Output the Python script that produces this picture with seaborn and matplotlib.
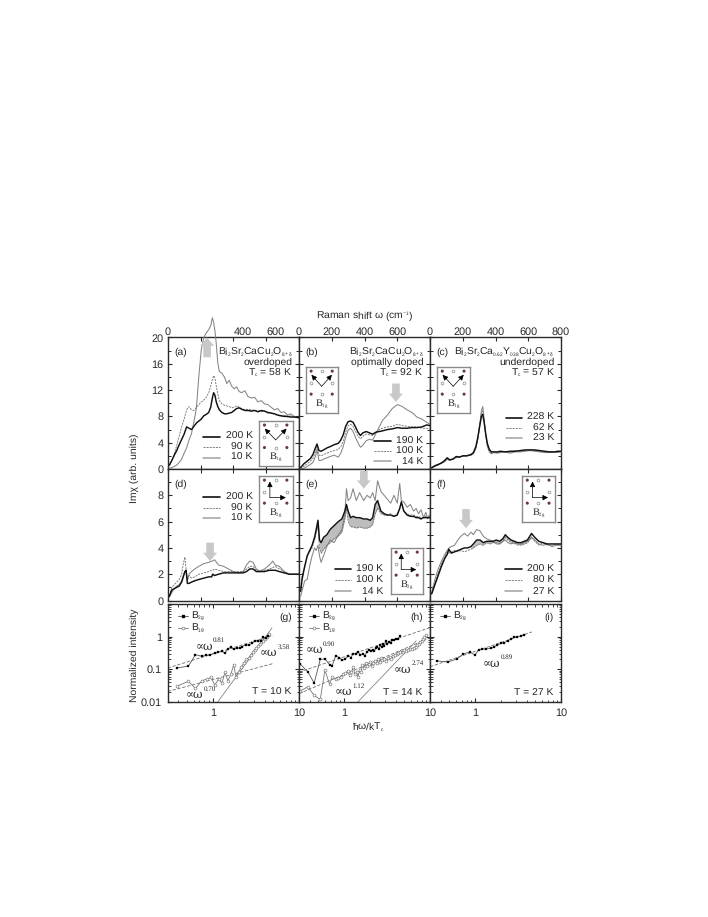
import matplotlib
matplotlib.use("Agg")
from matplotlib import _mathtext
import matplotlib.pyplot as plt
from matplotlib.ticker import LogLocator, MultipleLocator, NullFormatter
import seaborn as sns

# subscripts in the original are much smaller than the mathtext default
_mathtext.SHRINK_FACTOR = 0.45

# top panels, Raman shift in cm-1
a_x = [10, 25, 40, 55, 70, 85, 100, 115, 130, 145,
       160, 175, 190, 205, 220, 235, 250, 262, 272, 280,
       288, 296, 305, 315, 330, 345, 360, 375, 390, 405,
       420, 435, 450, 470, 490, 510, 530, 550, 570, 590,
       610, 630, 650, 670, 690, 710, 730, 750, 775, 800]
a_200 = [0.6, 1.3, 2.1, 2.8, 3.7, 4.5, 5.3, 6.4, 6.2, 6.0,
         6.5, 7.0, 7.3, 7.6, 8.1, 8.3, 8.6, 9.4, 10.8, 11.6,
         11.2, 10.2, 9.5, 9.0, 8.6, 8.4, 8.4, 8.5, 8.6, 8.9,
         9.2, 9.3, 9.1, 8.9, 8.9, 8.8, 8.9, 8.7, 8.9, 8.8,
         8.6, 8.5, 8.4, 8.2, 8.1, 8.0, 8.0, 7.9, 7.9, 7.8]
a_90 = [0.5, 1.2, 2.3, 3.6, 5.0, 6.4, 7.6, 9.0, 9.5, 9.0,
        8.9, 9.4, 9.8, 10.2, 10.5, 10.9, 11.6, 12.6, 13.6, 14.2,
        13.8, 12.6, 11.4, 10.4, 9.9, 9.7, 9.6, 9.5, 9.3, 9.4,
        9.6, 9.4, 9.2, 9.0, 9.1, 9.0, 8.9, 8.9, 8.7, 8.8,
        8.5, 8.6, 8.3, 8.2, 8.0, 8.2, 7.9, 8.1, 7.9, 7.8]
a_10 = [0.1, 0.2, 0.4, 0.6, 1.0, 1.5, 2.4, 3.2, 4.4, 5.4,
        7.2, 9.3, 14.2, 18.2, 20.0, 20.7, 21.2, 21.8, 23.0, 22.3,
        21.0, 19.0, 16.2, 14.8, 14.6, 14.0, 13.0, 13.5, 12.6, 12.2,
        12.5, 11.8, 11.6, 11.9, 11.0, 10.8, 10.9, 10.2, 10.4, 9.9,
        9.8, 9.4, 9.0, 9.2, 8.6, 8.7, 8.2, 8.4, 7.9, 7.8]

b_x = [10, 30, 50, 70, 85, 100, 110, 122, 135, 150,
       170, 190, 215, 240, 255, 270, 285, 300, 315, 330,
       345, 360, 375, 390, 410, 430, 450, 470, 490, 510,
       540, 570, 600, 630, 660, 690, 720, 750, 780, 800]
b_190 = [0.2, 0.8, 1.2, 1.6, 2.2, 3.2, 3.8, 2.8, 2.7, 2.9,
         3.2, 3.4, 3.7, 3.9, 4.4, 5.2, 6.5, 7.2, 7.3, 7.1,
         6.4, 5.6, 5.1, 5.5, 5.7, 5.5, 5.3, 5.6, 5.7, 5.8,
         6.0, 6.1, 6.3, 6.2, 6.2, 6.3, 6.3, 6.4, 6.7, 6.6]
b_100 = [0.0, 0.4, 0.8, 1.2, 1.6, 2.6, 3.4, 2.1, 2.0, 2.2,
         2.4, 2.6, 2.8, 3.0, 3.4, 4.2, 5.6, 6.6, 6.8, 6.5,
         5.7, 5.0, 4.6, 5.0, 5.3, 5.2, 5.1, 5.6, 6.0, 6.2,
         6.4, 6.5, 6.8, 6.6, 6.5, 6.4, 6.4, 6.2, 6.2, 6.1]
b_14 = [0.0, 0.1, 0.4, 0.7, 1.0, 1.9, 2.9, 1.3, 1.3, 1.5,
        1.7, 1.9, 2.1, 1.8, 2.4, 3.4, 4.8, 5.9, 6.2, 5.7,
        4.8, 4.0, 3.3, 3.6, 4.3, 4.5, 4.4, 5.4, 6.4, 7.4,
        8.2, 9.2, 9.8, 9.5, 9.0, 8.6, 7.9, 7.6, 7.1, 6.8]

c_x = [10, 30, 50, 70, 90, 105, 120, 140, 160, 180,
       200, 225, 250, 265, 280, 292, 304, 314, 322, 330,
       340, 350, 362, 375, 390, 410, 430, 460, 490, 520,
       550, 580, 610, 640, 670, 700, 730, 760, 780, 800]
c_228 = [0.2, 0.5, 0.7, 0.9, 1.3, 1.7, 1.4, 1.5, 1.9, 1.8,
         2.0, 2.0, 2.2, 2.5, 3.4, 4.8, 6.6, 8.0, 8.3, 7.2,
         5.4, 3.9, 3.0, 2.6, 2.6, 2.6, 2.7, 2.6, 2.7, 2.7,
         2.8, 2.9, 2.9, 2.9, 2.8, 2.7, 2.6, 2.6, 2.7, 2.7]
c_62 = [0.2, 0.4, 0.6, 1.0, 1.2, 1.6, 1.3, 1.6, 1.7, 1.9,
        1.9, 2.1, 2.1, 2.4, 3.2, 4.6, 6.6, 8.4, 8.8, 7.4,
        5.2, 3.7, 2.8, 2.4, 2.7, 2.5, 2.6, 2.7, 2.5, 2.8,
        2.7, 2.8, 3.0, 2.8, 2.7, 2.6, 2.7, 2.5, 2.6, 2.7]
c_23 = [0.1, 0.4, 0.6, 0.9, 1.1, 1.5, 1.3, 1.5, 1.8, 1.8,
        2.0, 2.0, 2.1, 2.3, 3.1, 4.5, 6.8, 8.9, 9.5, 7.8,
        5.2, 3.5, 2.6, 2.3, 2.5, 2.4, 2.5, 2.6, 2.4, 2.6,
        2.6, 2.7, 2.8, 2.7, 2.6, 2.5, 2.5, 2.6, 2.5, 2.6]

# middle panels
d_x = [10, 25, 40, 55, 70, 85, 95, 105, 112, 120,
       130, 145, 165, 190, 220, 250, 268, 274, 285, 310,
       340, 370, 400, 430, 460, 480, 500, 520, 540, 560,
       590, 620, 640, 655, 680, 710, 740, 765, 785, 800]
d_200 = [0.3, 0.8, 0.9, 1.0, 1.1, 1.4, 1.8, 2.2, 2.3, 1.3,
         1.3, 1.4, 1.5, 1.6, 1.7, 1.8, 1.8, 2.0, 1.9, 2.0,
         2.1, 2.1, 2.1, 2.1, 2.1, 2.2, 2.4, 2.4, 2.2, 2.2,
         2.2, 2.3, 2.3, 2.3, 2.2, 2.1, 2.0, 2.0, 2.0, 2.0]
d_90 = [0.4, 1.0, 1.2, 1.4, 1.6, 2.0, 2.8, 3.3, 2.4, 1.6,
        1.9, 1.7, 1.8, 2.0, 2.1, 2.2, 2.3, 2.3, 2.4, 2.3,
        2.2, 2.2, 2.2, 2.2, 2.2, 2.4, 2.6, 2.6, 2.3, 2.3,
        2.3, 2.4, 2.5, 2.6, 2.4, 2.2, 2.0, 2.0, 2.0, 2.0]
d_10 = [0.3, 0.6, 0.9, 1.1, 1.2, 1.5, 1.9, 2.2, 2.3, 1.5,
        2.0, 2.2, 2.4, 2.6, 2.8, 2.9, 3.0, 3.0, 3.1, 2.7,
        2.6, 2.4, 2.2, 2.1, 2.2, 2.7, 3.0, 2.9, 2.4, 2.2,
        2.4, 2.7, 3.0, 2.7, 2.6, 2.2, 2.0, 2.0, 2.0, 2.0]

e_x = [10, 20, 35, 50, 65, 80, 95, 105, 116, 125,
       135, 150, 170, 190, 215, 240, 262, 280, 290, 300,
       315, 330, 350, 370, 395, 415, 435, 450, 465, 480,
       500, 520, 540, 560, 580, 600, 615, 625, 640, 660,
       680, 700, 715, 730, 745, 760, 775, 785, 795, 800]
e_190 = [0.7, 1.7, 2.6, 3.4, 3.8, 4.2, 4.8, 5.4, 6.1, 4.6,
         4.4, 4.8, 5.0, 5.4, 5.7, 6.0, 6.2, 6.8, 7.3, 6.8,
         6.3, 6.4, 6.3, 6.3, 6.2, 6.2, 6.1, 6.3, 7.3, 7.6,
         6.8, 6.6, 6.5, 6.5, 6.4, 6.5, 7.0, 7.5, 6.8, 6.5,
         6.4, 6.4, 6.3, 6.3, 6.2, 6.3, 6.3, 6.3, 6.3, 6.3]
e_100 = [1.0, 2.0, 2.6, 3.3, 3.7, 4.0, 4.6, 5.2, 5.6, 4.0,
         3.6, 3.9, 4.2, 4.4, 4.7, 4.9, 5.2, 6.2, 7.0, 6.0,
         5.6, 5.6, 5.5, 5.6, 5.5, 5.5, 5.6, 5.8, 6.6, 7.0,
         6.6, 6.5, 6.5, 6.6, 6.4, 6.6, 7.0, 7.4, 6.8, 6.6,
         6.5, 6.5, 6.4, 6.4, 6.3, 6.3, 6.4, 6.3, 6.3, 6.3]
e_14 = [0.3, 0.8, 1.5, 1.6, 2.6, 3.4, 4.0, 3.8, 4.2, 3.4,
        2.9, 3.4, 4.1, 4.6, 4.4, 5.0, 5.4, 6.6, 8.5, 7.6,
        7.8, 8.5, 7.6, 8.2, 7.6, 8.0, 7.8, 8.2, 7.6, 9.1,
        8.3, 8.0, 7.7, 7.4, 8.0, 7.4, 8.9, 7.6, 7.5, 7.1,
        7.3, 6.8, 7.0, 6.6, 6.9, 6.3, 6.7, 6.2, 6.5, 6.3]

f_x = [10, 30, 50, 70, 90, 105, 115, 130, 150, 170,
       190, 210, 230, 250, 265, 285, 305, 325, 345, 365,
       385, 405, 425, 445, 460, 475, 495, 515, 535, 555,
       575, 595, 620, 640, 665, 690, 715, 745, 770, 800]
f_200 = [0.5, 1.2, 1.9, 2.6, 3.2, 3.5, 3.9, 3.6, 3.7, 3.8,
         3.9, 4.0, 4.0, 4.1, 4.3, 4.6, 4.6, 4.4, 4.5, 4.5,
         4.5, 4.6, 4.5, 4.7, 5.0, 4.8, 4.6, 4.5, 4.4, 4.4,
         4.5, 4.6, 5.1, 4.8, 4.5, 4.4, 4.3, 4.3, 4.3, 4.3]
f_80 = [0.5, 1.3, 2.1, 2.8, 3.3, 3.7, 3.6, 3.7, 3.8, 3.7,
        3.8, 3.7, 3.8, 3.9, 4.0, 4.2, 4.3, 4.2, 4.4, 4.3,
        4.4, 4.4, 4.3, 4.5, 4.8, 4.6, 4.4, 4.3, 4.4, 4.2,
        4.3, 4.4, 4.8, 4.5, 4.2, 4.4, 4.2, 4.2, 4.3, 4.2]
f_27 = [0.6, 1.6, 2.4, 3.0, 3.5, 3.8, 4.0, 4.1, 4.2, 4.6,
        4.9, 5.1, 4.9, 5.2, 5.0, 5.4, 5.3, 4.9, 4.7, 4.6,
        4.5, 4.3, 4.3, 4.5, 4.6, 4.4, 4.3, 4.5, 4.2, 4.3,
        4.4, 4.5, 4.8, 4.6, 4.3, 4.2, 4.3, 4.1, 4.2, 4.2]

# bottom panels, normalized intensity against hw/kTc
g_x_b2g = [.38, .52, .63, .75, .84, .92, 1.05, 1.15, 1.28, 1.38,
           1.5, 1.62, 1.75, 1.9, 2.05, 2.2, 2.4, 2.6, 2.85, 3.1,
           3.35, 3.6, 3.85, 4.1, 4.4]
g_y_b2g = [.11, .125, .28, .25, .27, .28, .31, .33, .36, .31,
           .42, .48, .41, .46, .44, .50, .56, .55, .62, .76,
           .72, .75, .95, .9, 1.05]
g_x_b1g = [.38, .52, .63, .75, .85, .96, 1.05, 1.17, 1.28, 1.38,
           1.5, 1.62, 1.75, 1.85, 2.0, 2.15, 2.3, 2.45, 2.6, 2.75,
           2.9, 3.05, 3.2, 3.35, 3.5, 3.65, 3.8, 4.0, 4.2, 4.5]
g_y_b1g = [.03, .043, .026, .045, .05, .057, .033, .05, .038, .08,
           .045, .07, .14, .06, .085, .12, .16, .2, .22, .27,
           .33, .4, .45, .52, .6, .68, .75, .85, 1.0, 1.2]

h_x_b2g = [.31, .38, .45, .53, .6, .68, .73, .8, .88, .95,
           1.02, 1.12, 1.2, 1.28, 1.38, 1.47, 1.55, 1.65, 1.75, 1.85,
           1.95, 2.05, 2.15, 2.25, 2.35, 2.45, 2.55, 2.65, 2.75, 2.85,
           2.95, 3.05, 3.2, 3.35, 3.5, 3.65, 3.8, 4.0, 4.2, 4.5]
h_y_b2g = [.145, .084, .038, .2, .21, .14, .13, .26, .23, .19,
           .2, .26, .23, .3, .3, .33, .28, .3, .26, .35,
           .38, .36, .4, .36, .45, .5, .42, .55, .48, .6,
           .52, .72, .6, .7, .65, .78, .8, .82, .85, 1.03]
h_x_b1g = [.31, .38, .45, .53, .6, .68, .73, .8, .86, .92,
           .98, 1.04, 1.1, 1.16, 1.22, 1.28, 1.34, 1.4, 1.46, 1.52,
           1.58, 1.64, 1.7, 1.78, 1.86, 1.94, 2.02, 2.1, 2.2, 2.3,
           2.4, 2.5, 2.6, 2.7, 2.8, 2.95, 3.1, 3.25, 3.4, 3.55,
           3.7, 3.9, 4.1, 4.3, 4.5, 4.8, 5.0, 5.3, 5.6, 5.9,
           6.2, 6.5, 6.8, 7.1, 7.4, 7.7, 8.0, 8.3, 8.6, 9.0]
h_y_b1g = [.022, .029, .016, .012, .095, .035, .06, .05, .055, .06,
           .07, .075, .09, .065, .08, .12, .07, .085, .06, .095,
           .08, .14, .11, .16, .13, .15, .17, .13, .16, .18,
           .16, .2, .17, .22, .19, .2, .18, .23, .24, .2,
           .26, .28, .3, .32, .35, .34, .38, .36, .4, .42,
           .43, .46, .5, .55, .6, .68, .75, .85, .95, 1.1]

i_x_b2g = [.365, .485, .61, .73, .87, 1.0, 1.1, 1.22, 1.33, 1.52,
           1.65, 1.8, 2.0, 2.2, 2.4, 2.6, 2.85, 3.1, 3.4, 3.7]
i_y_b2g = [.18, .167, .207, .295, .34, .275, .39, .41, .42, .44,
           .47, .55, .62, .66, .74, .85, .95, .98, 1.05, 1.1]

# power law guide lines, end points only
g_fit_081 = ([.3, 5], [.11, 1.1])
g_fit_070 = ([.3, 5], [.021, .15])
g_fit_358 = ([1.14, 4.85], [.01, 1.83])
h_fit_090 = ([.3, 10], [.082, 1.9])
h_fit_112 = ([.3, 10], [.018, .92])
h_fit_274 = ([1.45, 6.9], [.01, .74])
i_fit_089 = ([.3, 4.6], [.12, 1.4])

BLACK = "#111111"
AXIS_COL = "#2a2a2a"
TEXT_COL = "#262626"
DASH_COL = "#6e6e6e"
THIN_COL = "#858585"
ARROW_COL = "#c8c8c8"
TICK_FS = 7.8
TEXT_FS = 7.5

sns.set_style("ticks")
plt.rcParams["font.family"] = ["Liberation Sans", "DejaVu Sans"]
plt.rcParams["mathtext.default"] = "regular"
plt.rcParams["font.size"] = TEXT_FS
plt.rcParams["text.color"] = TEXT_COL
plt.rcParams["text.hinting"] = "none"
plt.rcParams["axes.linewidth"] = 1.0

W, H = 708, 917
fig = plt.figure(figsize=(W / 100, H / 100), dpi=100, facecolor="white")


def px_axes(left, top, right, bottom, **kw):
    return fig.add_axes([left / W, 1 - bottom / H, (right - left) / W, (bottom - top) / H], **kw)


col_edges = [(167.7, 299), (299, 430), (430, 561)]
rows = [(337.5, 469), (469, 600.5), (604, 702)]
axes = [[px_axes(c[0], r[0], c[1], r[1]) for c in col_edges] for r in rows]


def curves(ax, x, y1, y2, y3):
    sns.lineplot(x=x, y=y3, ax=ax, color=THIN_COL, lw=0.75, clip_on=False, zorder=3)
    sns.lineplot(x=x, y=y2, ax=ax, color=DASH_COL, lw=0.6, dashes=(2.5, 1.2), clip_on=False, zorder=3)
    sns.lineplot(x=x, y=y1, ax=ax, color=BLACK, lw=1.05, zorder=4)


def line_legend(ax, xl, xr, xt, ys, labels):
    styles = [dict(color=BLACK, lw=1.2),
              dict(color=DASH_COL, lw=0.6, ls=(0, (2.5, 1.2))),
              dict(color="#a0a0a0", lw=1.1)]
    for y, lab, st in zip(ys, labels, styles):
        ax.plot([xl, xr], [y, y], transform=ax.transAxes, **st)
        ax.text(xt, y, lab, transform=ax.transAxes, ha="right", va="center", fontsize=TEXT_FS)


def big_arrow(ax, x, y_from, y_to):
    ax.annotate("", xy=(x, y_to), xytext=(x, y_from), zorder=6, annotation_clip=False,
                arrowprops=dict(facecolor=ARROW_COL, edgecolor="none", width=5.5, headwidth=10,
                                headlength=6, shrink=0))


def lattice(left, top, right, bottom, kind):
    ins = px_axes(left, top, right, bottom, zorder=8)
    ins.set_xlim(0, 1)
    ins.set_ylim(1, 0)
    ins.set_xticks([])
    ins.set_yticks([])
    for s in ins.spines.values():
        s.set_color("#8a8a8a")
        s.set_linewidth(1.0)
    sns.scatterplot(x=[.16, .82, .16, .82], y=[.09, .09, .59, .59], ax=ins, s=5, color="#6b3a3a",
                    edgecolor="none", legend=False)
    sns.scatterplot(x=[.49, .16, .82, .49], y=[.09, .35, .35, .59], ax=ins, s=4, color="white",
                    edgecolor="#8a8a8a", linewidth=0.5, legend=False)
    head = dict(arrowstyle="-|>", color="black", lw=0.5, mutation_scale=8, shrinkA=0, shrinkB=0)
    if kind == "1g":
        ins.annotate("", xy=(.17, .17), xytext=(.49, .42), arrowprops=head)
        ins.annotate("", xy=(.81, .17), xytext=(.49, .42), arrowprops=head)
        lab = "B$_{1g}$"
    else:
        ins.annotate("", xy=(.32, .12), xytext=(.32, .47), arrowprops=head)
        ins.annotate("", xy=(.79, .47), xytext=(.32, .47), arrowprops=head)
        lab = "B$_{2g}$"
    ins.text(.5, .82, lab, ha="center", va="center", fontsize=7.5, family="Liberation Serif")


def power_label(ax, x, y, exponent):
    ax.text(x, y, "∝ω", transform=ax.transAxes, ha="center", va="center", fontsize=8.5,
            family=["DejaVu Serif"], zorder=7)
    ax.annotate(exponent, xy=(x, y), xycoords="axes fraction", xytext=(11, 4.5),
                textcoords="offset points", ha="center", va="center", fontsize=5,
                family="Liberation Serif", zorder=7)


# spectra
curves(axes[0][0], a_x, a_200, a_90, a_10)
curves(axes[0][1], b_x, b_190, b_100, b_14)
curves(axes[0][2], c_x, c_228, c_62, c_23)
curves(axes[1][0], d_x, d_200, d_90, d_10)
axes[1][1].fill_between(e_x, e_190, e_100, where=[90 <= v <= 540 for v in e_x], color="#bdbdbd", lw=0, zorder=2)
curves(axes[1][1], e_x, e_190, e_100, e_14)
axes[1][2].fill_between(f_x, f_200, f_80, where=[240 <= v <= 620 for v in f_x], color="#c4c4c4", lw=0, zorder=2)
curves(axes[1][2], f_x, f_200, f_80, f_27)

big_arrow(axes[0][0], 240, 17, 20)
big_arrow(axes[0][1], 592, 13, 10.2)
big_arrow(axes[1][0], 258, 4.4, 3)
big_arrow(axes[1][1], 396, 9.85, 8.5)
big_arrow(axes[1][2], 220, 6.95, 5.5)

line_legend(axes[0][0], .27, .40, .648, [.247, .165, .086], ["200 K", "90 K", "10 K"])
line_legend(axes[0][1], .572, .70, .947, [.214, .137, .061], ["190 K", "100 K", "14 K"])
line_legend(axes[0][2], .578, .70, .947, [.39, .31, .236], ["228 K", "62 K", "23 K"])
line_legend(axes[1][0], .27, .40, .648, [.786, .70, .626], ["200 K", "90 K", "10 K"])
line_legend(axes[1][1], .272, .397, .643, [.237, .153, .069], ["190 K", "100 K", "14 K"])
line_legend(axes[1][2], .572, .70, .949, [.237, .153, .069], ["200 K", "80 K", "27 K"])

lattice(259, 421, 293, 466, "1g")
lattice(306, 367, 338, 413, "1g")
lattice(437, 367, 470, 413, "1g")
lattice(259, 476, 293, 522, "2g")
lattice(391, 548, 423, 594, "2g")
lattice(522, 476, 555, 522, "2g")

title_lines = [
    ["Bi$_2$Sr$_2$CaCu$_2$O$_{8+δ}$", "overdoped", "T$_c$ = 58 K"],
    ["Bi$_2$Sr$_2$CaCu$_2$O$_{8+δ}$", "optimally doped", "T$_c$ = 92 K"],
    ["Bi$_2$Sr$_2$Ca$_{0.62}$Y$_{0.38}$Cu$_2$O$_{8+δ}$", "underdoped", "T$_c$ = 57 K"],
]
for j, lines in enumerate(title_lines):
    for y, line in zip([.89, .81, .735], lines):
        axes[0][j].text(.95, y, line, transform=axes[0][j].transAxes, ha="right", va="center", fontsize=TEXT_FS)

for ax, lab in zip(axes[0] + axes[1], ["(a)", "(b)", "(c)", "(d)", "(e)", "(f)"]):
    ax.text(.05, .885, lab, transform=ax.transAxes, ha="left", va="center", fontsize=TEXT_FS)

# axis set up for the spectra
for r in range(2):
    for j, ax in enumerate(axes[r]):
        ax.set_xlim(0, 800)
        ax.set_ylim(*((0, 20) if r == 0 else (0, 10)))
        ax.set_xlabel("")
        ax.set_ylabel("")
        ax.xaxis.set_major_locator(MultipleLocator(200))
        ax.yaxis.set_major_locator(MultipleLocator(4 if r == 0 else 2))
        ax.yaxis.set_minor_locator(MultipleLocator(2 if r == 0 else 1))
        ax.tick_params(which="major", direction="in", length=3, width=0.8, top=True, right=True,
                       labelbottom=False, labelleft=(j == 0), labelsize=TICK_FS, colors=AXIS_COL, pad=3)
        ax.tick_params(which="minor", direction="in", length=2, width=0.7, left=True, right=True)
        for s in ax.spines.values():
            s.set_visible(True)
            s.set_color(AXIS_COL)
for ax in axes[1]:
    ax.set_yticks([0, 2, 4, 6, 8])
    ax.set_ylim(0, 10)
for ax in axes[0]:
    ax.tick_params(axis="x", which="major", labeltop=True, pad=0.5)
axes[0][0].set_xticks([0, 200, 400, 600, 800], ["0", "", "", "", ""])
axes[0][1].set_xticks([0, 200, 400, 600, 800], ["0", "200", "400", "600", ""])
axes[0][2].set_xticks([0, 200, 400, 600, 800], ["0", "200", "400", "600", "800"])
# these two sit to the right of their ticks in the original
for val in ["400", "600"]:
    axes[0][0].annotate(val, xy=(int(val), 20), xycoords="data", xytext=(6.5, 0.5), textcoords="offset points",
                        ha="center", va="bottom", fontsize=TICK_FS, color=AXIS_COL)

# bottom row
for j, ax in enumerate(axes[2]):
    ax.set_xscale("log")
    ax.set_yscale("log")

dash = dict(color=DASH_COL, lw=0.6, dashes=(4, 2))
thin = dict(color=THIN_COL, lw=0.6)
sq = dict(color="#555555", lw=0.6, marker="s", markersize=1.9, markerfacecolor="black",
          markeredgecolor="black", markeredgewidth=0.2)
circ = dict(color="#777777", lw=0.6, marker="o", markersize=2.1, markerfacecolor="white",
            markeredgecolor="#666666", markeredgewidth=0.4)

ax = axes[2][0]
sns.lineplot(x=g_fit_081[0], y=g_fit_081[1], ax=ax, **dash)
sns.lineplot(x=g_fit_070[0], y=g_fit_070[1], ax=ax, **dash)
sns.lineplot(x=g_fit_358[0], y=g_fit_358[1], ax=ax, **thin)
sns.lineplot(x=g_x_b1g, y=g_y_b1g, ax=ax, **circ)
sns.lineplot(x=g_x_b2g, y=g_y_b2g, ax=ax, **sq)
power_label(ax, .277, .564, "0.81")
power_label(ax, .771, .50, "3.58")
power_label(ax, .206, .071, "0.70")

ax = axes[2][1]
sns.lineplot(x=h_fit_090[0], y=h_fit_090[1], ax=ax, **dash)
sns.lineplot(x=h_fit_112[0], y=h_fit_112[1], ax=ax, **dash)
sns.lineplot(x=h_fit_274[0], y=h_fit_274[1], ax=ax, **thin)
sns.lineplot(x=h_x_b1g, y=h_y_b1g, ax=ax, **circ)
sns.lineplot(x=h_x_b2g, y=h_y_b2g, ax=ax, **sq)
power_label(ax, .115, .53, "0.90")
power_label(ax, .341, .102, "1.12")
power_label(ax, .789, .334, "2.74")

ax = axes[2][2]
sns.lineplot(x=i_fit_089[0], y=i_fit_089[1], ax=ax, **dash)
sns.lineplot(x=i_x_b2g, y=i_y_b2g, ax=ax, **sq)
power_label(ax, .471, .395, "0.89")

for j, ax in enumerate(axes[2]):
    ax.set_xlim(0.3, 10)
    ax.set_ylim(0.01, 10)
    ax.set_xlabel("")
    ax.set_ylabel("")
    ax.set_xticks([1, 10], ["1", "10"])
    ax.set_yticks([0.01, 0.1, 1, 10], ["0.01", "0.1", "1", ""])
    ax.xaxis.set_minor_locator(LogLocator(base=10, subs=range(2, 10), numticks=12))
    ax.yaxis.set_minor_locator(LogLocator(base=10, subs=range(2, 10), numticks=12))
    ax.xaxis.set_minor_formatter(NullFormatter())
    ax.yaxis.set_minor_formatter(NullFormatter())
    ax.tick_params(which="major", direction="in", length=3, width=0.8, top=True, right=True,
                   labelleft=(j == 0), labelsize=TICK_FS, colors=AXIS_COL, pad=4)
    ax.tick_params(which="minor", direction="in", length=1.8, width=0.6, top=True, right=True,
                   bottom=True, left=True)
    for s in ax.spines.values():
        s.set_visible(True)
        s.set_color(AXIS_COL)

    # small marker key, top left of each log panel
    ax.plot([.075, .155], [.878, .878], transform=ax.transAxes, color="#555555", lw=0.6)
    ax.plot([.115], [.878], transform=ax.transAxes, color="black", marker="s", markersize=1.9)
    ax.text(.178, .878, "B$_{2g}$", transform=ax.transAxes, ha="left", va="center", fontsize=TEXT_FS)
    if j < 2:
        ax.plot([.075, .155], [.758, .758], transform=ax.transAxes, color="#777777", lw=0.6)
        ax.plot([.115], [.758], transform=ax.transAxes, color="#666666", marker="o", markersize=2.1,
                markerfacecolor="white", markeredgewidth=0.4)
        ax.text(.178, .758, "B$_{1g}$", transform=ax.transAxes, ha="left", va="center", fontsize=TEXT_FS)

for ax, lab, temp in zip(axes[2], ["(g)", "(h)", "(i)"], ["T = 10 K", "T = 14 K", "T = 27 K"]):
    ax.text(.945, .865, lab, transform=ax.transAxes, ha="right", va="center", fontsize=TEXT_FS)
    ax.text(.945, .10, temp, transform=ax.transAxes, ha="right", va="center", fontsize=TEXT_FS)

# axis titles
fig.text(364 / W, 1 - 316 / H, "Raman shift ω (cm$^{-1}$)", ha="center", va="center", fontsize=TEXT_FS)
fig.text(368 / W, 1 - 727 / H, "ħω/kT$_c$", ha="center", va="center", fontsize=TEXT_FS)
fig.text(134 / W, 1 - 468 / H, "Imχ (arb. units)", rotation=90, ha="center", va="center", fontsize=TEXT_FS)
fig.text(134 / W, 1 - 655 / H, "Normalized intensity", rotation=90, ha="center", va="center", fontsize=TEXT_FS)

fig.savefig("out.png", dpi=100)
